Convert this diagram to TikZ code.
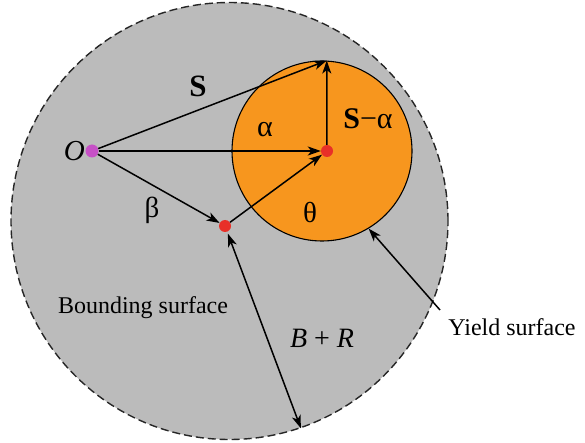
\documentclass[tikz,border=0pt]{standalone}
\usepackage{fontspec}
\setmainfont{Liberation Serif}
\usetikzlibrary{arrows.meta, positioning}

\definecolor{gris}{RGB}{187,187,187}
\definecolor{naranja}{RGB}{247,150,30}
\definecolor{violeta}{RGB}{198,80,198}
\definecolor{rojo}{RGB}{232,48,40}

\begin{document}
\begin{tikzpicture}[x=1pt, y=-1pt, font=\fontsize{23}{27}\selectfont,
    >={Stealth[length=13pt, width=9pt, inset=3.5pt]}]
    \useasboundingbox (0,0) rectangle (585,443);

    % Definir superficies
    \node (bound) [draw=black!85, circle, fill=gris, line width=1.4pt, dash pattern=on 8pt off 4pt, minimum size=437pt, inner sep=0pt] at (229.5,221) {};
    \node (yield) [draw, circle, fill=naranja, line width=1.1pt, minimum size=180pt, inner sep=0pt] at (322,151) {};

    % Definir puntos
    \node (O) [circle, fill=violeta, minimum size=13pt, inner sep=0pt] at (92,151) {};
    \node (C) [circle, fill=rojo, minimum size=12pt, inner sep=0pt] at (327,151) {};
    \node (P) [circle, fill=rojo, minimum size=12pt, inner sep=0pt] at (225,226) {};
    \coordinate (T) at (yield.87);
    \coordinate (ytail) at (440,310);

    % Dibujar vectores
    \draw[->, line width=1.5pt] (O) -- (T);
    \draw[->, line width=1.5pt] (O) -- (C);
    \draw[->, line width=1.5pt] (O) -- (P);
    \draw[->, line width=1.5pt] (P) -- (C);
    \draw[->, line width=1.5pt] (C) -- (T);
    \draw[<->, line width=1.5pt, shorten <=2pt] (P) -- (bound.-71);
    \draw[->, line width=1.5pt] (ytail) -- (yield.-59);

    % Añadir etiquetas
    \node (lblO) [left=-3pt of O, font=\fontsize{29}{32}\selectfont] {\textit{O}};
    \node (lblS) [font=\fontsize{31}{34}\selectfont] at (198,86) {\textbf{S}};
    \node (lblalpha) [font=\fontsize{30}{32}\selectfont] at (265,130) {α};
    \node (lblSalpha) [font=\fontsize{30}{32}\selectfont] at (368,119) {\textbf{S}−α};
    \node (lblbeta) [font=\fontsize{29}{32}\selectfont] at (152,210) {β};
    \node (lbltheta) [font=\fontsize{29}{32}\selectfont] at (310,213) {θ};
    \node (lblbound) [font=\fontsize{24}{27}\selectfont] at (143,308) {Bounding surface};
    \node (lblBR) [font=\fontsize{28}{30}\selectfont] at (322,338) {\textit{B} + \textit{R}};
    \node (lblyield) [font=\fontsize{24}{27}\selectfont] at (512,327) {Yield surface};
\end{tikzpicture}
\end{document}
